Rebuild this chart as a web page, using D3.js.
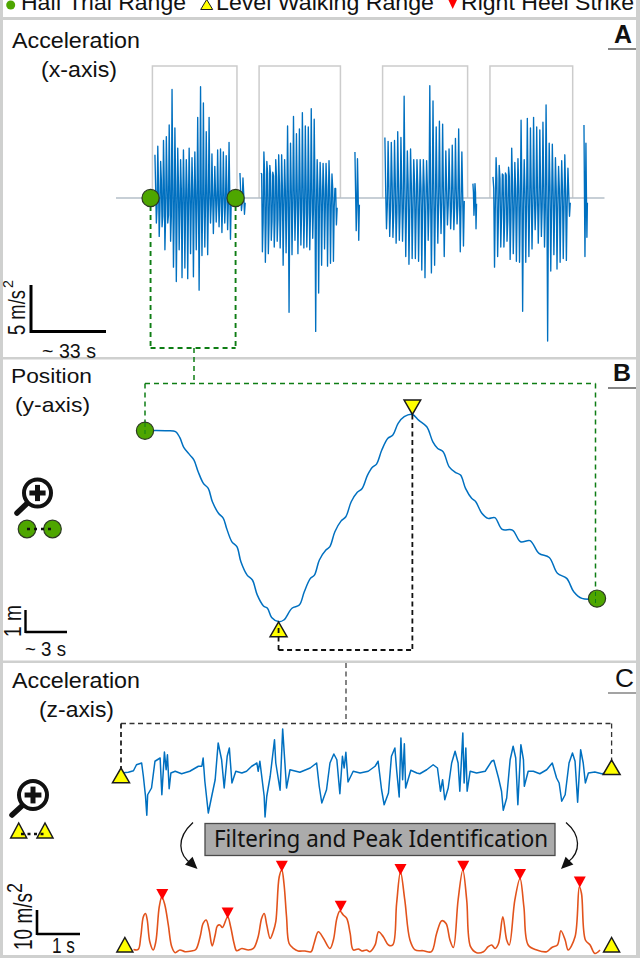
<!DOCTYPE html>
<html><head><meta charset="utf-8">
<script src="https://cdn.jsdelivr.net/npm/d3@7"></script>
<style>html,body{margin:0;padding:0;background:#fff}svg{display:block}text{font-family:"Liberation Sans",Arial,sans-serif;fill:#111}</style>
</head><body><div id="c"></div>
<script>
// ---------- Panel A: x-axis acceleration, m/s2 ----------
const burst1Up=[4.5,5.4,3.8,6.0,6.4,7.6,11.3,7.3,5.2,4.0,5.0,4.0,5.2,4.2,4.8,8.4,11.6,9.9,6.9,8.4,4.6,3.3,5.0,5.1,4.8,4.4,5.8];
const burst1Down=[-2.6,-4.0,-3.0,-5.4,-2.6,-4.5,-7.2,-8.7,-5.4,-8.3,-7.3,-8.4,-5.8,-8.2,-5.4,-9.6,-6.0,-5.1,-5.9,-2.6,-3.7,-2.5,-3.0,-3.6,-2.6,-3.3,-4.3];
const burst1Core=[1.0,1.3,1.9,1.9,1.8,1.9,2.0,1.8,1.4,1.0,0.8,0.9,0.7,0.8,0.5,0.7,0.5,0.4,0.6,0.7,0.5,0.6,0.4,0.6,0.5,0.6,0.5];
const burst2Up=[2.6,4.8,3.8,3.4,2.7,4.0,4.5,4.5,4.0,7.5,5.7,8.5,6.7,7.2,8.9,7.5,7.4,9.3,8.2,4.0,3.7,3.6,3.6,3.9,2.5,1.0];
const burst2Down=[-5.6,-6.7,-5.8,-4.4,-5.1,-4.5,-5.2,-7.0,-5.7,-11.9,-5.9,-4.4,-5.8,-4.9,-5.2,-5.1,-5.4,-4.2,-13.9,-9.9,-7.0,-5.3,-7.1,-6.8,-6.6,-2.8];
const burst2Core=[2.5,2.5,2.6,2.4,2.3,2.2,1.5,1.0,0.8,0.7,0.7,0.8,0.9,1.2,1.5,1.5,1.3,1.0,1.0,1.0,0.9,1.0,1.0,1.0,1.0,1.0];
const burst3Up=[6.3,5.9,5.8,6.0,6.9,6.3,10.6,4.9,5.1,4.0,4.0,4.0,4.0,3.9,11.7,10.1,7.4,8.0,7.7,4.9,5.1,5.5,6.2,7.2,4.8];
const burst3Down=[-3.2,-4.0,-4.1,-4.7,-4.4,-4.5,-6.1,-6.9,-6.3,-6.3,-6.6,-7.5,-8.3,-4.4,-7.8,-7.0,-4.7,-3.7,-6.1,-2.8,-3.2,-3.3,-2.7,-5.6,-5.0];
const burst3Core=[0.8,1.2,1.7,1.5,1.3,1.0,1.0,1.4,1.3,1.5,1.2,1.0,1.2,1.0,0.5,0.5,0.5,0.5,0.5,0.7,1.0,1.0,0.8,0.5,0.3];
const burst4Up=[2.2,4.2,3.4,2.5,2.6,3.2,5.2,3.7,4.1,8.1,4.0,8.3,7.3,8.4,7.4,7.1,7.9,9.7,5.7,5.6,4.2,3.3,3.9,4.5,3.1];
const burst4Down=[-7.2,-6.1,-5.1,-5.1,-4.5,-6.4,-5.8,-6.6,-6.7,-11.8,-6.7,-6.1,-5.3,-3.3,-4.7,-4.0,-5.1,-14.9,-7.6,-5.9,-7.4,-6.7,-6.3,-6.5,-1.9];
const burst4Core=[1.0,2.0,2.0,2.4,2.4,2.2,1.6,1.0,1.0,0.6,0.6,0.5,0.8,0.6,0.7,1.0,1.2,1.3,1.2,1.0,0.8,0.9,0.8,0.7,0.5];
const turn1Up=[2.6,2.1], turn1Down=[-1.3,-1.7], turn1Core=[0.5,0.5];
const turn2Up=[4.8,4.1], turn2Down=[-3.4,-4.4], turn2Core=[0.7,0.7];
const turn3Up=[1.5,1.5], turn3Down=[-1.8,-3.2], turn3Core=[0.6,0.6];
const turn4Up=[7.6,5.7], turn4Down=[-6.1,-4.1], turn4Core=[0.5,0.5];
const burstSpans=[[16.9,50.3],[62.9,96.3],[116.7,151.5],[163.6,197.5]];
const turnSpans=[[53.8,56.4],[103.7,105.9],[154.9,156.7],[203.1,204.8]];
const trialRanges=[[15.8,52.5],[62.1,97.4],[115.7,152.6],[162.3,198.2]];
const trialBoxLevel=13.75;
const baselineSpan=[0,212];
const halfTrialTimes=[15.0,51.9];

// ---------- Panel B: y-axis position, seconds and metres ----------
const posTime=[0,.74,1.62,2.21,2.51,2.80,3.25,3.54,3.84,4.22,4.57,4.87,5.31,5.66,5.90,6.28,6.64,6.93,7.38,7.76,8.11,8.56,8.85,9.15,9.65,10.03,10.62,11.15,11.51,11.95,12.24,12.60,13.07,13.36,13.72,14.16,14.51,14.90,15.34,15.69,16.08,16.43,16.73,17.11,17.55,17.91,18.29,18.73,19.32,19.77,20.36,20.80,21.15,21.54,21.98,22.42,22.80,23.16,23.60,23.90,24.34,24.78,25.28,25.81,26.55,27.14,27.82,28.47,29.21,29.80,30.47,30.98,31.57,32.66];
const posMeters=[0,.01,0,-.04,-.29,-.72,-1.06,-1.28,-1.78,-2.29,-2.51,-3.09,-3.59,-3.81,-4.25,-4.83,-5.04,-5.70,-6.28,-6.49,-7.14,-7.62,-7.72,-8.12,-8.30,-8.23,-7.72,-7.58,-7.00,-6.42,-6.28,-5.62,-5.19,-5.04,-4.39,-3.93,-3.74,-3.09,-2.68,-2.51,-1.93,-1.59,-1.45,-.84,-.33,-.19,.32,.61,.71,.46,.17,-.48,-.77,-.91,-1.57,-1.81,-1.93,-2.51,-2.94,-3.09,-3.59,-3.81,-3.78,-4.29,-4.32,-4.83,-4.78,-5.33,-5.51,-6.20,-6.42,-7.00,-7.29,-7.30];
const levelRangeTimes=[9.65,19.32];

// ---------- Panel C: z-axis acceleration and filtered signal ----------
const zTime=[0,.17,.29,.36,.48,.52,.57,.60,.62,.71,.79,.91,.95,1.01,1.05,1.08,1.12,1.16,1.26,1.41,1.60,1.80,1.88,1.91,1.95,2.03,2.11,2.19,2.26,2.34,2.40,2.47,2.52,2.58,2.67,2.81,2.92,3.04,3.16,3.19,3.23,3.33,3.35,3.39,3.47,3.57,3.60,3.70,3.76,3.85,3.93,4.16,4.40,4.55,4.61,4.67,4.78,4.86,4.95,5.02,5.09,5.15,5.19,5.23,5.28,5.40,5.56,5.75,5.91,5.98,6.06,6.12,6.22,6.29,6.37,6.41,6.47,6.51,6.55,6.59,6.62,6.74,6.88,6.95,7.11,7.26,7.36,7.43,7.48,7.53,7.61,7.69,7.77,7.84,7.88,7.95,7.98,8.02,8.05,8.12,8.27,8.47,8.62,8.67,8.78,8.85,8.89,8.97,9.05,9.12,9.18,9.23,9.30,9.36,9.38,9.47,9.59,9.74,9.90,10.03,10.13,10.19,10.25,10.33,10.42,10.50,10.56,10.62,10.69,10.75,10.80,10.87,11.02,11.18,11.41];
const zAccel=[0,.3,.9,3.3,4.0,-1.3,-9.3,-16.9,-8.7,-6.0,4.7,6.0,-8.7,8.4,1.3,7.3,-6.3,0,.7,-.3,.7,2.7,2.7,6.0,-3.3,-16.0,-9.3,-2.7,12.0,5.3,-6.0,6.7,10.0,-4.0,.7,0,.7,2.7,4.0,.7,4.7,-9.3,-17.6,-9.3,-1.3,13.3,4.0,-6.9,17.6,-6.0,1.3,.3,2.0,4.0,-5.3,-12.0,-6.7,4.0,7.6,5.3,-8.3,6.7,2.0,8.3,-3.6,.7,0,.7,2.7,4.7,-6.7,-12.7,-8.0,6.7,10.0,1.3,-9.6,14.0,-2.7,11.7,-6.0,1.1,0,-.3,1.3,3.3,2.0,-7.3,-2.7,-10.7,-6.0,4.0,8.7,4.0,-7.3,16.0,-4.0,10.0,-7.3,.7,0,.7,4.7,5.1,-2.0,-7.3,-14.9,-10.0,5.3,10.7,6.0,-12.7,11.3,5.3,-5.3,.7,.7,-.3,1.3,4.0,-2.0,-4.0,-11.3,-8.7,4.0,8.0,4.7,-11.7,9.3,4.0,-4.0,0,.4,-.3,.3];
const filtTime=[.29,.40,.46,.52,.57,.61,.67,.75,.81,.89,.95,1.02,1.10,1.18,1.26,1.37,1.49,1.64,1.74,1.84,1.91,1.98,2.05,2.12,2.19,2.24,2.30,2.36,2.48,2.55,2.63,2.69,2.81,2.96,3.08,3.19,3.27,3.33,3.39,3.47,3.54,3.60,3.68,3.74,3.79,3.85,3.91,4.01,4.12,4.28,4.42,4.49,4.59,4.71,4.86,4.94,5.02,5.09,5.17,5.25,5.33,5.40,5.52,5.60,5.71,5.79,5.91,5.99,6.10,6.22,6.32,6.41,6.50,6.60,6.72,6.84,7.03,7.22,7.34,7.46,7.56,7.65,7.73,7.84,7.95,8.04,8.13,8.27,8.43,8.54,8.62,8.70,8.78,8.88,8.97,9.03,9.16,9.28,9.37,9.47,9.67,9.90,10.02,10.15,10.23,10.33,10.40,10.56,10.66,10.71,10.80,10.91,11.02,11.14];
const filtAccel=[.9,.9,6.0,14.0,15.3,12.7,4.0,.7,4.0,18.0,22.0,18.7,10.7,2.0,-.4,.7,0,.3,.9,6.0,11.3,12.7,8.7,2.3,6.7,10.3,10.7,9.7,14.0,10.0,3.3,.4,1.3,.7,1.3,6.0,13.3,15.3,10.7,5.3,8.0,12.0,30.0,32.7,27.3,14.0,3.3,1.3,.3,.3,0,3.3,8.0,5.3,1.3,4.7,13.3,16.3,14.7,13.3,7.3,.7,1.1,.3,.7,0,2.7,8.0,6.0,2.7,2.7,19.3,32.0,20.7,4.7,.7,.4,0,7.3,12.4,11.3,4.7,1.7,20.7,32.7,20.7,2.0,-.4,0,2.0,2.7,1.3,3.3,14.0,4.7,2.7,20.7,29.3,18.0,2.7,.7,0,1.7,2.7,8.4,4.7,.7,6.0,26.0,23.3,4.7,2.7,-.7,.7];
const heelTimes=[.96,2.48,3.74,5.11,6.50,7.96,9.28,10.67];
const heelValues=[20.7,13.3,32.0,16.0,30.7,32.0,28.7,25.7];
const levelEndsZ=[0,11.41], levelEndsZValues=[-1.3,2.0];
const levelEndsFilt=[.09,11.41];

const legendLabels=["Half Trial Range","Level Walking Range","Right Heel Strike"];

// ---------- Scaffolding ----------
const W=640,H=958,BLUE="#0070c0",ORANGE="#e2531c",GREEN="#4ea600",DGREEN="#0e7d14",YEL="#ffff00",RED="#ff0000",GRAY="#cfd0cf";
const svg=d3.select("#c").append("svg").attr("width",W).attr("height",H).attr("viewBox",[0,0,W,H]);

const xA=d3.scaleLinear().domain([0,217]).range([116,616]);
const yA=d3.scaleLinear().domain([-15,14]).range([342,63.6]);
const xB=d3.scaleLinear().domain([0,32.66]).range([145,597]);
const yB=d3.scaleLinear().domain([-8.3,.71]).range([621.6,414.4]);
const xC=d3.scaleLinear().domain([0,11.41]).range([121,611.6]);
const yZ=d3.scaleLinear().domain([-17.6,17.6]).range([817,729]);
const yF=d3.scaleLinear().domain([0,32.7]).range([951.7,870]);

function hl(x1,y1,x2,y2,c,w,dash){const l=svg.append("line").attr("x1",x1).attr("y1",y1).attr("x2",x2).attr("y2",y2).attr("stroke",c).attr("stroke-width",w);if(dash)l.attr("stroke-dasharray",dash);return l;}
function label(t,x,y,size,len,opts={}){const s=svg.append("text").attr("x",x).attr("y",y).attr("font-size",size).text(t);if(len)s.attr("textLength",len).attr("lengthAdjust","spacingAndGlyphs");if(opts.weight)s.attr("font-weight",opts.weight);if(opts.family)s.style("font-family",opts.family);return s;}
function vlabel(t,x,y,size,len){return svg.append("text").attr("transform",`translate(${x},${y}) rotate(-90)`).attr("font-size",size).attr("textLength",len).attr("lengthAdjust","spacingAndGlyphs").text(t);}
function tri(cx,baseY,apexY,hw,fill,sw=1.5){const p=d3.path();p.moveTo(cx-hw,baseY);p.lineTo(cx+hw,baseY);p.lineTo(cx,apexY);p.closePath();return svg.append("path").attr("d",p.toString()).attr("fill",fill).attr("stroke",sw?"#1a1a1a":"none").attr("stroke-width",sw).attr("stroke-linejoin","miter");}
function dot(cx,cy,r){return svg.append("circle").attr("cx",cx).attr("cy",cy).attr("r",r).attr("fill",GREEN).attr("stroke","#2c3a22").attr("stroke-width",1.2);}
function magnifier(cx,cy,r,hx,hy){
  svg.append("line").attr("x1",hx).attr("y1",hy).attr("x2",cx-r*.7).attr("y2",cy+r*.7).attr("stroke","#111").attr("stroke-width",5.5).attr("stroke-linecap","round");
  svg.append("circle").attr("cx",cx).attr("cy",cy).attr("r",r).attr("fill","#fff").attr("stroke","#111").attr("stroke-width",4);
  hl(cx-r*.6,cy,cx+r*.6,cy,"#111",5);hl(cx,cy-r*.6,cx,cy+r*.6,"#111",5);
}

// Frames
svg.append("g").attr("fill",GRAY).selectAll("rect").data([[0,0,3,H],[636,0,4,H],[0,17,W,3],[0,357,W,2.5],[0,660.5,W,2.5],[0,955,W,3]]).join("rect")
  .attr("x",d=>d[0]).attr("y",d=>d[1]).attr("width",d=>d[2]).attr("height",d=>d[3]);

// Legend
dot(10.7,5,4.5).attr("stroke","none");
label(legendLabels[0],21,9.5,22,165);
tri(206.7,9.5,-.5,6,YEL,1);
label(legendLabels[1],216,9.5,22,218);
tri(452.7,-2,9,5.2,RED,0);
label(legendLabels[2],461,9.5,22,173);

// ---------- Panel A ----------
label("Acceleration",12,48,22,128);label("(x-axis)",41,77,22,76);
label("A",614,43,25,18,{weight:"bold"});hl(608,49,636,49,"#666",1.6);

const boxLine=d3.line().x(d=>xA(d[0])).y(d=>yA(d[1]));
svg.append("g").selectAll("path").data(trialRanges).join("path")
  .attr("d",r=>boxLine([[r[0],0],[r[0],trialBoxLevel],[r[1],trialBoxLevel],[r[1],0]]))
  .attr("fill","none").attr("stroke","#cccccc").attr("stroke-width",1.5);
hl(xA(baselineSpan[0]),yA(0),xA(baselineSpan[1]),yA(0),"#b4bfc8",1.5);

const allBursts=[
 [burstSpans[0],burst1Up,burst1Down,burst1Core],[turnSpans[0],turn1Up,turn1Down,turn1Core],
 [burstSpans[1],burst2Up,burst2Down,burst2Core],[turnSpans[1],turn2Up,turn2Down,turn2Core],
 [burstSpans[2],burst3Up,burst3Down,burst3Core],[turnSpans[2],turn3Up,turn3Down,turn3Core],
 [burstSpans[3],burst4Up,burst4Down,burst4Core],[turnSpans[3],turn4Up,turn4Down,turn4Core]];
const lineA=d3.line().x(d=>xA(d[0])).y(d=>yA(d[1]));
svg.append("g").selectAll("path").data(allBursts).join("path")
  .attr("d",([span,up,down,core])=>{
    const n=up.length,dt=(span[1]-span[0])/(4*n),pts=[];
    up.forEach((u,i)=>{const t=span[0]+i*4*dt;
      pts.push([t,u],[t+dt,core[i]],[t+2*dt,down[i]],[t+3*dt,-core[i]]);});
    return lineA(pts);})
  .attr("fill","none").attr("stroke",BLUE).attr("stroke-width",1.35).attr("stroke-linejoin","round");

const gy=348;
halfTrialTimes.forEach(t=>hl(xA(t),206,xA(t),gy,DGREEN,1.9,"5 4"));
hl(xA(halfTrialTimes[0]),gy,xA(halfTrialTimes[1]),gy,DGREEN,1.9,"5 4");
halfTrialTimes.forEach(t=>dot(xA(t),yA(0),8.6));

hl(31,285,31,333,"#000",3);hl(31,331.5,106,331.5,"#000",3);
vlabel("5 m/s",25,335,24,45);vlabel("2",13,288,15,8);
label("~ 33 s",42,358,21,54);

// ---------- Panel B ----------
label("Position",11,383,21,81);label("(y-axis)",15,412,21,75);
label("B",613,381,23,18,{weight:"bold"});hl(608,388,636,388,"#666",1.6);

const by=383.5;
hl(194,gy,194,by,DGREEN,1.5,"5 4");
hl(xB(0),by,595.5,by,DGREEN,1.5,"5 4");
hl(xB(0),by,xB(0),yB(0),DGREEN,1.5,"5 4");
hl(595.5,by,595.5,yB(posMeters[posMeters.length-1]),DGREEN,1.5,"5 4");

const posPts=d3.zip(posTime,posMeters);
svg.append("path").attr("d",d3.line().curve(d3.curveCatmullRom.alpha(.5)).x(d=>xB(d[0])).y(d=>yB(d[1]))(posPts)).attr("fill","none").attr("stroke",BLUE).attr("stroke-width",1.5).attr("stroke-linejoin","round");
dot(xB(0),yB(0),8.6);
dot(xB(posTime[posTime.length-1]),yB(posMeters[posMeters.length-1]),8.6);
hl(xB(0),423,xB(0),436,DGREEN,1,"4 3");
hl(595.5,592,595.5,604,DGREEN,1,"4 3");

const lvl0=xB(levelRangeTimes[0]),lvl1=xB(levelRangeTimes[1]),minY=yB(-8.30),maxY=yB(.71);
tri(lvl1,400,maxY,8.3,YEL);
tri(lvl0,636.7,minY+.3,8.5,YEL);
const bl=650;
hl(lvl1,maxY,lvl1,bl,"#111",1.8,"5 3.5");
hl(lvl0,628,lvl0,bl,"#111",1.8,"5 3.5");
hl(lvl0,bl,lvl1,bl,"#111",1.8,"5 3.5");

magnifier(37.5,493,13.5,17,513);
dot(27,529,8.8);dot(52.5,529,8.8);hl(27,529,52.5,529,"#111",2.4,"3 4");

hl(25.5,610,25.5,633,"#000",2.4);hl(25.5,632,67,632,"#000",2.4);
vlabel("1 m",21,637,24,32);
label("~ 3 s",25,656,20,41);

// ---------- Panel C ----------
label("Acceleration",12,688,22,128);label("(z-axis)",39,717,22,75);
label("C",615,687,25,19);hl(608,693,636,693,"#666",1.2);

hl(346,663,346,723.5,"#333",1.2,"5 3.5");
const cy=723.5;
hl(xC(0),cy,xC(11.41),cy,"#333",1.3,"5 3.5");
hl(xC(0),cy,xC(0),yZ(levelEndsZValues[0]),"#222",1.8,"5 3.5");
hl(xC(11.41),cy,xC(11.41),yZ(levelEndsZValues[1]),"#333",1.3,"5 3.5");

const lineZ=d3.line().x(d=>xC(d[0])).y(d=>yZ(d[1]));
const zPts=d3.zip(zTime,zAccel);
svg.append("path").attr("d",lineZ(zPts)).attr("fill","none").attr("stroke",BLUE).attr("stroke-width",1.5).attr("stroke-linejoin","round");
tri(xC(levelEndsZ[0]),782.7,768,8.5,YEL);
tri(xC(levelEndsZ[1]),774.5,760,8.5,YEL);

// Filter box and arrows
svg.append("rect").attr("x",205).attr("y",823.5).attr("width",350).attr("height",32).attr("fill","#ababab").attr("stroke","#4a4a4a").attr("stroke-width",1.3);
label("Filtering and Peak Identification",214,847,23.5,334,{family:"'Noto Sans',sans-serif"});
function arrow(d,tip,from){
  svg.append("path").attr("d",d).attr("fill","none").attr("stroke","#111").attr("stroke-width",1.3);
  const a=Math.atan2(tip[1]-from[1],tip[0]-from[0]),L=12,w=5.5;
  const bx=tip[0]-L*Math.cos(a),by2=tip[1]-L*Math.sin(a);
  svg.append("path").attr("d",`M${tip[0]},${tip[1]}L${bx-w*Math.sin(a)},${by2+w*Math.cos(a)}L${bx+w*Math.sin(a)},${by2-w*Math.cos(a)}Z`).attr("fill","#111");
}
arrow("M193,822.5C176,838 178,855 192,864",[197.5,869],[189,861]);
arrow("M566,822.5C581,835 581,852 568,862",[561,869],[570,860]);

magnifier(33,795,14,12,815);
tri(18.7,838,823,8,YEL);tri(45,838,823,8,YEL);
hl(21,834,45,834,"#111",2.6,"3 3.5");

// Filtered series
const filtPts=d3.zip(filtTime,filtAccel);
svg.append("path").attr("d",d3.line().curve(d3.curveCatmullRom.alpha(.5)).x(d=>xC(d[0])).y(d=>yF(d[1]))(filtPts)).attr("fill","none").attr("stroke",ORANGE).attr("stroke-width",1.6).attr("stroke-linejoin","round");
levelEndsFilt.forEach(t=>tri(xC(t),952,937.5,8,YEL));
svg.append("g").selectAll("path").data(d3.zip(heelTimes,heelValues)).join("path")
  .attr("d",d=>{const x=xC(d[0]),y=yF(d[1]);return `M${x-6},${y-11}L${x+6},${y-11}L${x},${y}Z`;})
  .attr("fill",RED);

hl(37,910,37,935,"#000",2.6);hl(37,934,80,934,"#000",2.6);
vlabel("10 m/s",32,950,25,57);vlabel("2",22,893,22,10);
label("1 s",52,953,22,23);
</script></body></html>
